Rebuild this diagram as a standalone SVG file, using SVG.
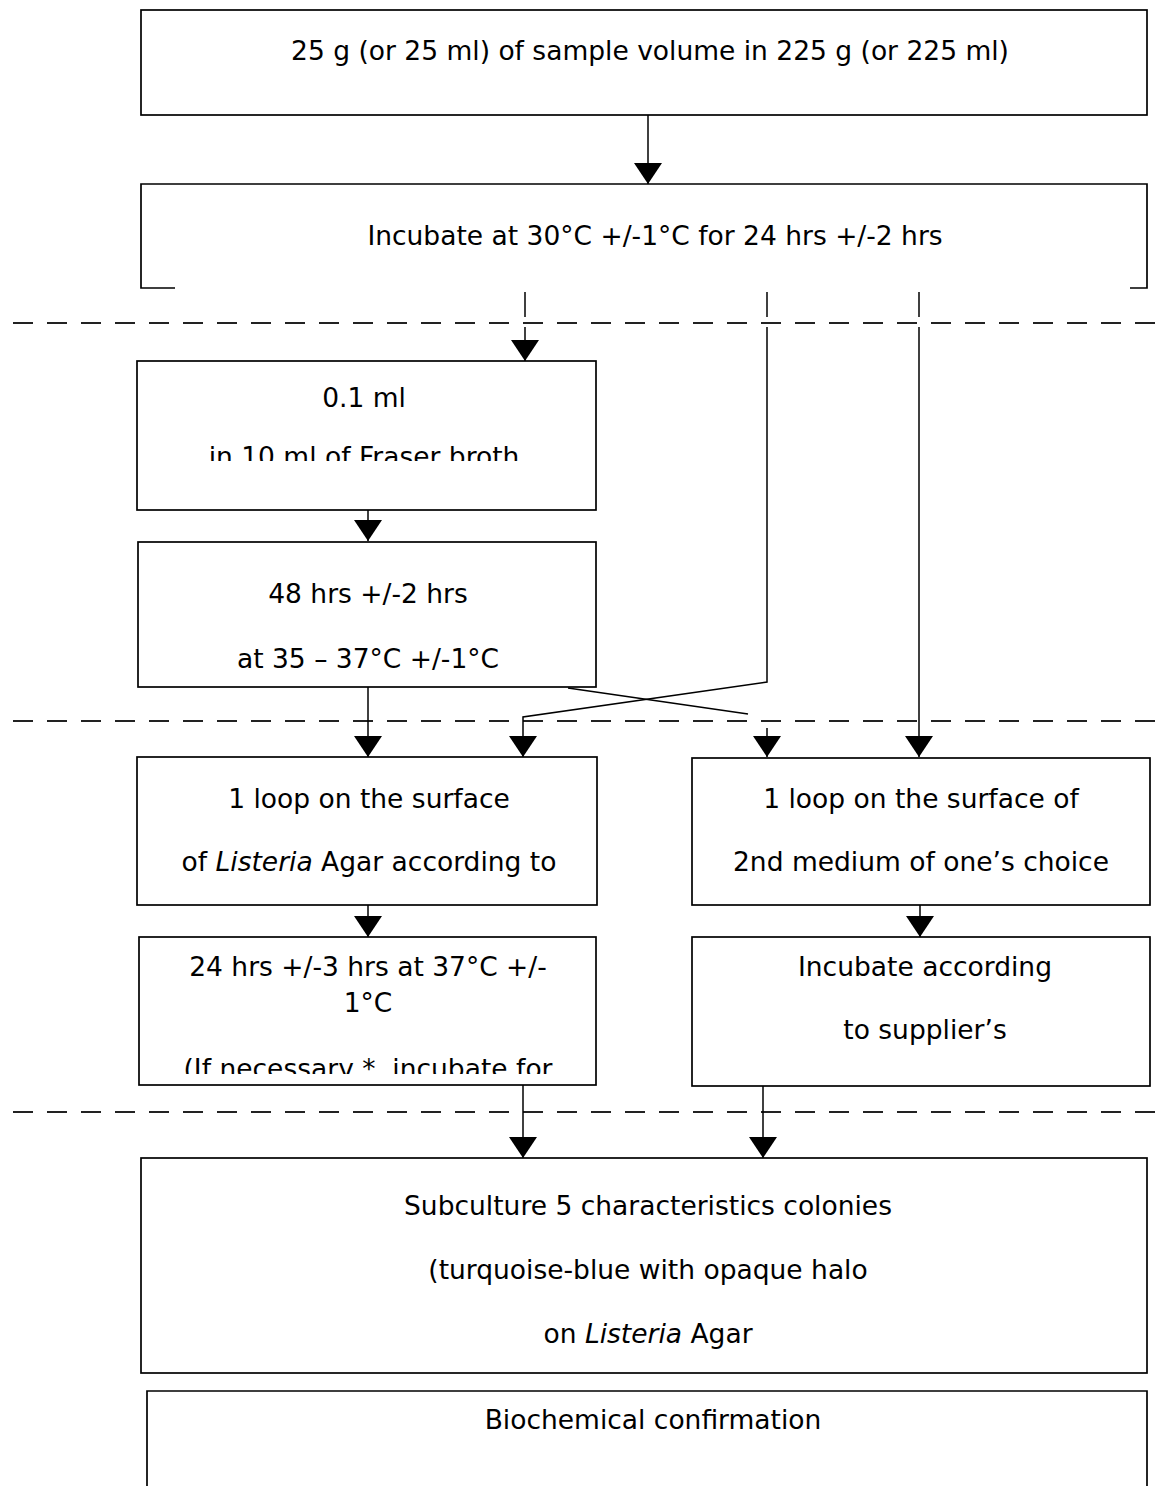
<svg xmlns="http://www.w3.org/2000/svg" width="1166" height="1486" viewBox="0 0 1166 1486">
<style>
.box{fill:#fff;stroke:#000;stroke-width:1.7}
.t{font-family:"DejaVu Sans",Verdana,sans-serif;font-size:26.5px;fill:#000;text-anchor:middle}
.c{fill:none;stroke:#000;stroke-width:1.5}
.d{fill:none;stroke:#222;stroke-width:1.8;stroke-dasharray:20 14}
</style>
<defs>
<marker id="ah" markerUnits="userSpaceOnUse" markerWidth="22" markerHeight="30" refX="21" refY="14" orient="auto">
<path d="M0,0 L21,14 L0,28 z" fill="#000"/>
</marker>
<clipPath id="clip3"><rect x="137" y="361" width="459" height="100"/></clipPath>
<clipPath id="clip6"><rect x="139" y="937" width="457" height="137"/></clipPath>
</defs>
<g id="dividers">
<line class="d" x1="13" y1="323" x2="1166" y2="323"/>
<line class="d" x1="13" y1="721" x2="1166" y2="721"/>
<line class="d" x1="13" y1="1112" x2="1166" y2="1112"/>
</g>
<g id="n1">
<rect class="box" x="141" y="10" width="1006" height="105"/>
<text class="t" x="650" y="60">25 g (or 25 ml) of sample volume in 225 g (or 225 ml)</text>
</g>
<g id="n2">
<path class="box" d="M175,288 H141 V184 H1147 V288 H1130" fill="none"/>
<text class="t" x="655" y="245">Incubate at 30°C +/-1°C for 24 hrs +/-2 hrs</text>
</g>
<g id="n3">
<rect class="box" x="137" y="361" width="459" height="149"/>
<g clip-path="url(#clip3)">
<text class="t" x="364" y="407">0.1 ml</text>
<text class="t" x="364" y="466">in 10 ml of Fraser broth</text>
</g>
</g>
<g id="n4">
<rect class="box" x="138" y="542" width="458" height="145"/>
<text class="t" x="368" y="603">48 hrs +/-2 hrs</text>
<text class="t" x="368" y="668">at 35 – 37°C +/-1°C</text>
</g>
<g id="n5">
<rect class="box" x="137" y="757" width="460" height="148"/>
<text class="t" x="369" y="808">1 loop on the surface</text>
<text class="t" x="369" y="871">of <tspan font-style="italic">Listeria</tspan> Agar according to</text>
</g>
<g id="n6">
<rect class="box" x="692" y="758" width="458" height="147"/>
<text class="t" x="921" y="808">1 loop on the surface of</text>
<text class="t" x="921" y="871">2nd medium of one’s choice</text>
</g>
<g id="n7">
<rect class="box" x="139" y="937" width="457" height="148"/>
<g clip-path="url(#clip6)">
<text class="t" x="368" y="976">24 hrs +/-3 hrs at 37°C +/-</text>
<text class="t" x="368" y="1012">1°C</text>
<text class="t" x="368" y="1078">(If necessary *, incubate for</text>
</g>
</g>
<g id="n8">
<rect class="box" x="692" y="937" width="458" height="149"/>
<text class="t" x="925" y="976">Incubate according</text>
<text class="t" x="925" y="1039">to supplier’s</text>
</g>
<g id="n9">
<rect class="box" x="141" y="1158" width="1006" height="215"/>
<text class="t" x="648" y="1215">Subculture 5 characteristics colonies</text>
<text class="t" x="648" y="1279">(turquoise-blue with opaque halo</text>
<text class="t" x="648" y="1343">on <tspan font-style="italic">Listeria</tspan> Agar</text>
</g>
<g id="n10">
<path class="box" d="M147,1490 V1391 H1147 V1490"/>
<text class="t" x="653" y="1429">Biochemical confirmation</text>
</g>
<g id="connectors">
<path class="c" d="M648,115 V184" marker-end="url(#ah)"/>
<path class="c" d="M525,292 V317"/>
<path class="c" d="M767,292 V317"/>
<path class="c" d="M919,292 V317"/>
<path class="c" d="M525,327 V361" marker-end="url(#ah)"/>
<path class="c" d="M767,327 V682 L523,717 V757" marker-end="url(#ah)"/>
<path class="c" d="M919,327 V757" marker-end="url(#ah)"/>
<path class="c" d="M368,510 V541" marker-end="url(#ah)"/>
<path class="c" d="M368,687 V757" marker-end="url(#ah)"/>
<path class="c" d="M568,688 L748,714"/>
<path class="c" d="M767,728 V757" marker-end="url(#ah)"/>
<path class="c" d="M368,905 V937" marker-end="url(#ah)"/>
<path class="c" d="M920,905 V937" marker-end="url(#ah)"/>
<path class="c" d="M523,1085 V1158" marker-end="url(#ah)"/>
<path class="c" d="M763,1086 V1158" marker-end="url(#ah)"/>
</g>
</svg>
